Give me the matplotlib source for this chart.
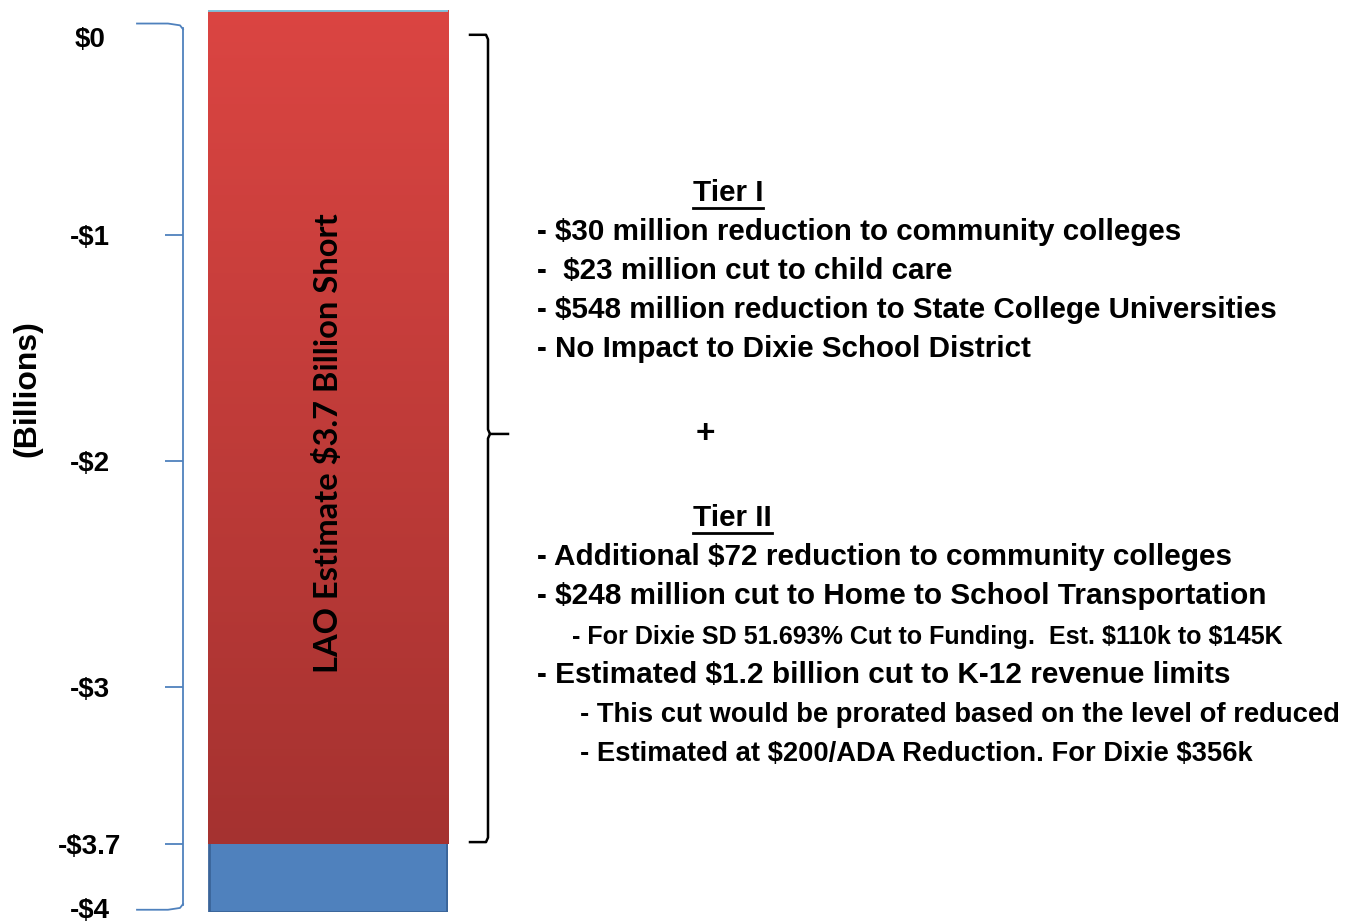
import matplotlib
matplotlib.use("Agg")
import matplotlib.pyplot as plt
import matplotlib.transforms as mtransforms
from matplotlib.colors import LinearSegmentedColormap
import numpy as np

plt.rcParams["text.parse_math"] = False
plt.rcParams["font.family"] = ["Liberation Sans", "DejaVu Sans"]

# data (billions)
shortfall = -3.7
scale_bottom = -4.0
tick_values = [0, -1, -2, -3, -3.7, -4]
tick_labels = ["$0", "-$1", "-$2", "-$3", "-$3.7", "-$4"]
bar_label = "LAO Estimate $3.7 Billion Short"

tier1_title = "Tier I"
tier1_lines = [
    "- $30 million reduction to community colleges",
    "-  $23 million cut to child care",
    "- $548 million reduction to State College Universities",
    "- No Impact to Dixie School District",
]
tier2_title = "Tier II"
tier2_lines = [
    ("- Additional $72 reduction to community colleges", 0),
    ("- $248 million cut to Home to School Transportation", 0),
    ("- For Dixie SD 51.693% Cut to Funding.  Est. $110k to $145K", 1),
    ("- Estimated $1.2 billion cut to K-12 revenue limits", 0),
    ("- This cut would be prorated based on the level of reduced", 2),
    ("- Estimated at $200/ADA Reduction. For Dixie $356k", 2),
]

W, H = 1346, 922
fig = plt.figure(figsize=(W / 100, H / 100), dpi=100)
ax = fig.add_axes([208 / W, 10 / H, 240 / W, 902 / H])
ax.set_xlim(-0.5, 0.5)
ax.set_ylim(scale_bottom, 0)

# blue full scale bar behind, red shortfall on top
ax.bar(0, scale_bottom, width=0.99, color="#4F81BD", edgecolor="#3A6499", linewidth=2, zorder=1)
red = ax.bar(0, shortfall, width=1.0, color="#C93D3A", linewidth=0, zorder=2)[0]
cmap = LinearSegmentedColormap.from_list("redgrad", ["#DB4542", "#A53230"])
grad = np.linspace(0, 1, 256).reshape(-1, 1)
im = ax.imshow(grad, cmap=cmap, aspect="auto", extent=(-0.5, 0.5, shortfall, 0), zorder=3)
im.set_clip_path(red)
ax.axhline(0, color="#7FC3DD", lw=2, zorder=4)

ax.text(0, -1.92, bar_label, rotation=90, ha="center", va="center",
        fontsize=23.5, fontweight="bold", family=["Lato", "DejaVu Sans"], zorder=5)

# axis drawn as a bracket on the left
for s in ["top", "right", "bottom"]:
    ax.spines[s].set_visible(False)
ax.set_xticks([])
ax.spines["left"].set_position(("outward", 18))
ax.spines["left"].set_bounds(-3.97, -0.08)
ax.spines["left"].set_color("#4F81BD")
ax.spines["left"].set_linewidth(1.3)
ax.set_yticks(tick_values)
ax.set_yticklabels(tick_labels)
ax.tick_params(axis="y", length=13, width=1.3, color="#4F81BD", pad=54,
               labelsize=20)
for lbl in ax.get_yticklabels():
    lbl.set_ha("center")
    lbl.set_fontweight("bold")
ticks = ax.yaxis.get_major_ticks()
ticks[0].tick1line.set_visible(False)
ticks[-1].tick1line.set_visible(False)
# end labels sit a little inside the bracket, as in the slide
lbls = ax.get_yticklabels()
lbls[0].set_transform(lbls[0].get_transform()
                      + mtransforms.ScaledTranslation(0, -27 / 100, fig.dpi_scale_trans))
lbls[-1].set_transform(lbls[-1].get_transform()
                       + mtransforms.ScaledTranslation(0, 4 / 100, fig.dpi_scale_trans))

tr = mtransforms.blended_transform_factory(fig.transFigure, ax.transData)
bx = 183 / W
ax.plot([137 / W, 168 / W, 180 / W, bx], [-0.06, -0.06, -0.068, -0.085],
        transform=tr, color="#4F81BD", lw=1.3, clip_on=False)
ax.plot([137 / W, 168 / W, 180 / W, bx], [-3.99, -3.99, -3.982, -3.965],
        transform=tr, color="#4F81BD", lw=1.3, clip_on=False)

ax.text(27 / W, -1.68, "(Billions)", transform=tr, rotation=90, ha="center",
        va="center", fontsize=23, fontweight="bold")

# right brace
rx = 488 / W
ax.plot([470 / W, 486 / W, rx, rx, 490 / W, 508 / W], [-0.11, -0.11, -0.13, -1.86, -1.88, -1.88],
        transform=tr, color="black", lw=1.8, clip_on=False)
ax.plot([490 / W, rx, rx, 486 / W, 470 / W], [-1.88, -1.9, -3.67, -3.69, -3.69],
        transform=tr, color="black", lw=1.8, clip_on=False)


# notes
def title(txt, y):
    t = fig.text(693 / W, 1 - y / H, txt, ha="left", va="center", fontsize=21.3, fontweight="bold")
    fig.canvas.draw()
    bb = t.get_window_extent()
    fig.add_artist(plt.Line2D([bb.x0 / W, bb.x1 / W], [(bb.y0 - 1) / H] * 2, color="black", lw=2))


title(tier1_title, 193)
for i, line in enumerate(tier1_lines):
    fig.text(537 / W, 1 - (232 + 39 * i) / H, line, ha="left", va="center",
             fontsize=21.3, fontweight="bold")

fig.text(705 / W, 1 - 434 / H, "+", ha="center", va="center", fontsize=24, fontweight="bold")

title(tier2_title, 518)
indent = {0: 537, 1: 572, 2: 580}
size = {0: 21.4, 1: 18.1, 2: 19.7}
ys = [557, 596, 637, 675, 715, 754]
for (line, lvl), y in zip(tier2_lines, ys):
    fig.text(indent[lvl] / W, 1 - y / H, line, ha="left", va="center",
             fontsize=size[lvl], fontweight="bold")

fig.savefig("out.png", dpi=100)
